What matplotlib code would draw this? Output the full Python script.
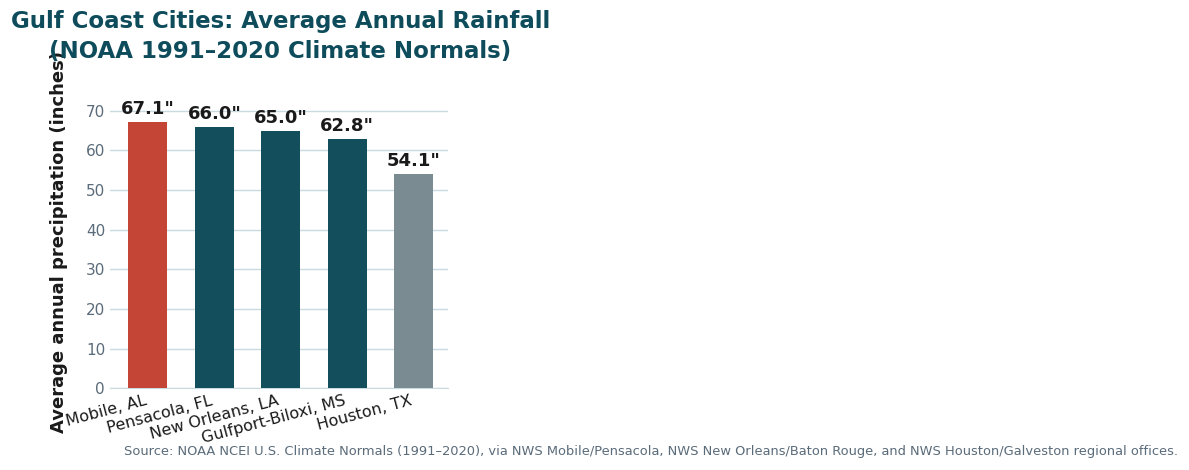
import matplotlib
matplotlib.use('Agg')
import matplotlib.pyplot as plt

# Daten
staedte = ['Mobile, AL', 'Pensacola, FL', 'New Orleans, LA', 'Gulfport-Biloxi, MS', 'Houston, TX']
niederschlag = [67.1, 66.0, 65.0, 62.8, 54.1]
farben = ['#c44536', '#124e5c', '#124e5c', '#124e5c', '#7b8b92']

fig = plt.figure(figsize=(11.89, 4.70), dpi=100)
ax = fig.add_axes([0.0925, 0.174, 0.284, 0.624])

balken = ax.bar(staedte, niederschlag, color=farben, width=0.59, zorder=3)
for b, v in zip(balken, niederschlag):
    ax.text(b.get_x() + b.get_width() / 2, v + 1.0, f'{v:.1f}"', ha='center', va='bottom',
            fontsize=13, fontweight='bold', color='#1a1a1a')

ax.set_xlim(-0.57, 4.51)
ax.set_ylim(0, 74)
ax.set_yticks(range(0, 71, 10))
ax.grid(axis='y', color='#c9dbe0', linewidth=1, zorder=0)
for s in ['top', 'right', 'left']:
    ax.spines[s].set_visible(False)
ax.spines['bottom'].set_color('#c9dbe0')
ax.tick_params(axis='y', colors='#5a6b7a', labelsize=11, length=0)
ax.tick_params(axis='x', labelsize=11.5, length=0, colors='#1a1a1a')
plt.setp(ax.get_xticklabels(), rotation=15, ha='right')
ax.set_ylabel('Average annual precipitation (inches)', fontsize=13, fontweight='bold',
              color='#1a1a1a')
ax.yaxis.set_label_coords(-0.125, 0.5)

fig.text(0.236, 0.978, 'Gulf Coast Cities: Average Annual Rainfall\n(NOAA 1991–2020 Climate Normals)',
         ha='center', va='top', fontsize=16.5, fontweight='bold', color='#0e4c5c', linespacing=1.35)
fig.text(0.991, 0.025, 'Source: NOAA NCEI U.S. Climate Normals (1991–2020), via NWS Mobile/Pensacola, '
         'NWS New Orleans/Baton Rouge, and NWS Houston/Galveston regional offices.',
         ha='right', va='bottom', fontsize=9.4, color='#5a6b7a')

fig.savefig('out.png', dpi=100)
